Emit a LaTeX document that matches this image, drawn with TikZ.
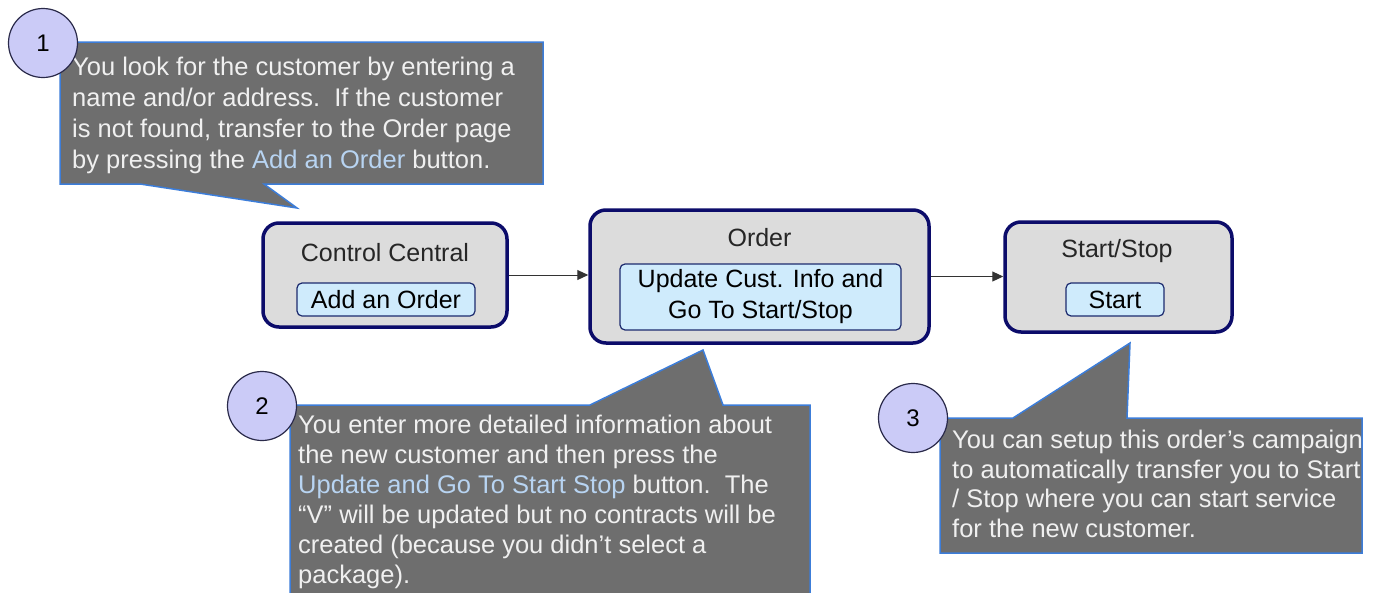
\documentclass[tikz,border=0pt]{standalone}
\usepackage{fontspec}
\setmainfont{Liberation Sans}
\usetikzlibrary{arrows.meta}
\definecolor{callfill}{HTML}{6E6E6E}
\definecolor{callborder}{HTML}{3C7DD9}
\definecolor{calltext}{HTML}{F0F0F0}
\definecolor{hl}{HTML}{B8D4F2}
\definecolor{numfill}{HTML}{CBCBF7}
\definecolor{numborder}{HTML}{2A2A4A}
\definecolor{boxfill}{HTML}{DCDCDC}
\definecolor{boxborder}{HTML}{0C0C6A}
\definecolor{btnfill}{HTML}{CFEBFC}
\definecolor{btnborder}{HTML}{1C2A6E}
\tikzset{
  callout/.style={fill=callfill, draw=callborder, line width=1.5pt},
  ctext/.style={anchor=north west, align=left, text=calltext, inner sep=0pt,
    font=\fontsize{25.5}{30}\selectfont},
  num/.style={circle, fill=numfill, draw=numborder, line width=1.2pt,
    minimum size=69pt, inner sep=0pt, font=\fontsize{24}{28}\selectfont},
  screen/.style={rounded corners=16pt, fill=boxfill, draw=boxborder, line width=3.5pt},
  btn/.style={rounded corners=5pt, fill=btnfill, draw=btnborder, line width=1.2pt,
    inner sep=0pt, font=\fontsize{25}{31}\selectfont, align=center},
  title/.style={inner sep=0pt, font=\fontsize{25}{30}\selectfont, text=black!85},
  flow/.style={-{Triangle[length=11pt,width=10pt]}, line width=1pt, draw=black!80},
}
\begin{document}
\begin{tikzpicture}[x=1pt,y=-1pt]
\useasboundingbox (0,0) rectangle (1374,592);
\fill[white] (0,0) rectangle (1374,592);

% screens
\node[screen, minimum width=244pt, minimum height=104pt] (cc) at (385,275) {};
\node[title] (cct) at (385,253) {Control Central};
\node[btn, minimum width=178pt, minimum height=33pt] (ccb) at (386,299.5) {Add an Order};

\node[screen, minimum width=339pt, minimum height=133pt] (ord) at (759.5,276.5) {};
\node[title] (ordt) at (759.5,238) {Order};
\node[btn, minimum width=281pt, minimum height=66pt] (ordb) at (760.5,297)
  {Update Cust. Info and\\Go To Start/Stop};

\node[screen, minimum width=227pt, minimum height=110pt] (ss) at (1118.5,277) {};
\node[title] (sst) at (1117,251) {Start/Stop};
\node[btn, minimum width=98pt, minimum height=33pt] (ssb) at (1115,299.5) {Start};

\draw[flow] (cc.east) -- (ord.west |- cc.east);
\draw[flow] (ord.east) -- (ss.west |- ord.east);

% callout 1
\draw[callout] (60,42) -- (543,42) -- (543,184) -- (264,184) -- (297,208)
  -- (140,184) -- (60,184) -- cycle;
\node[ctext, font=\fontsize{25.5}{31}\selectfont] (t1) at (72,57) {You look for the customer by entering a\\
name and/or address.\ \ If the customer\\
is not found, transfer to the Order page\\
by pressing the \textcolor{hl}{Add an Order} button.};
\node[num] (n1) at (43,43) {1};

% callout 2
\draw[callout] (290,405) -- (590,405) -- (703,350) -- (723,405) -- (810,405)
  -- (810,600) -- (290,600) -- cycle;
\node[ctext] (t2) at (298,415) {You enter more detailed information about\\
the new customer and then press the\\
\textcolor{hl}{Update and Go To Start Stop} button.\ \ The\\
“V” will be updated but no contracts will be\\
created (because you didn’t select a\\
package).};
\node[num] (n2) at (262,406) {2};

% callout 3
\draw[callout] (940,418) -- (1013,418) -- (1130,343) -- (1127,418) -- (1362,418)
  -- (1362,553) -- (940,553) -- cycle;
\begin{scope}
\clip (940,418) rectangle (1361,553);
\node[ctext, font=\fontsize{25.5}{29.5}\selectfont] (t3) at (952,430) {You can setup this order’s campaign\\
to automatically transfer you to Start\\
/ Stop where you can start service\\
for the new customer.};
\end{scope}
\node[num] (n3) at (913,418) {3};
\end{tikzpicture}
\end{document}
